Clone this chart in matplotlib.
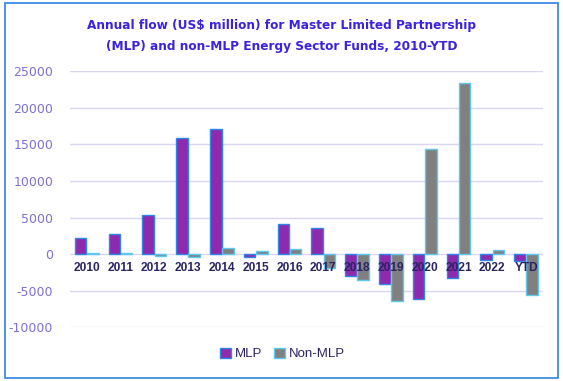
import numpy as np
import matplotlib
matplotlib.use("Agg")
import matplotlib.pyplot as plt
from matplotlib.patches import Rectangle

# annual flows, US$ million
years = ['2010', '2011', '2012', '2013', '2014', '2015', '2016',
         '2017', '2018', '2019', '2020', '2021', '2022', 'YTD']
mlp = [2150, 2700, 5300, 15830, 17060, -450, 4060,
       3510, -3010, -4150, -6200, -3330, -870, -1000]
non_mlp = [100, 100, -300, -450, 860, 370, 640,
           -1960, -3560, -6430, 14320, 23350, 500, -5650]
yticks = [-10000, -5000, 0, 5000, 10000, 15000, 20000, 25000]

title = ('Annual flow (US$ million) for Master Limited Partnership\n'
         '(MLP) and non-MLP Energy Sector Funds, 2010-YTD')

fig = plt.figure(figsize=(5.63, 3.81), dpi=100)
ax = fig.add_axes([0.124, 0.141, 0.8405, 0.672])

x = np.arange(len(years))
w = 0.34
ax.bar(x - 0.18, mlp, w, color='#8e2aae', edgecolor='#2f86e8', linewidth=1.0,
       label='MLP', zorder=3)
ax.bar(x + 0.18, non_mlp, w, color='#808080', edgecolor='#5ec8ee', linewidth=1.0,
       label='Non-MLP', zorder=3)

ax.set_xlim(-0.5, len(years) - 0.5)
ax.set_ylim(-10000, 25000)
ax.set_yticks(yticks)
ax.set_yticklabels([str(v) for v in yticks])
ax.tick_params(axis='y', length=0, pad=12, labelsize=9, labelcolor='#7d70d8')
ax.set_xticks([])
ax.grid(axis='y', color='#dcd6f0', linewidth=1.0, zorder=0)
for s in ax.spines.values():
    s.set_visible(False)

# category labels sit right under the zero line
for i, lab in enumerate(years):
    ax.annotate(lab, (i, 0), xytext=(0, -6), textcoords='offset points',
                ha='center', va='top', fontsize=8.6, fontweight='bold',
                color='#2b2464', family='Liberation Sans', zorder=5)

fig.text(0.5, 0.905, title, ha='center', va='center', fontsize=8.7,
         fontweight='bold', color='#3a22e0', linespacing=1.75)

leg = fig.legend(loc='center', bbox_to_anchor=(0.502, 0.071), ncol=2, frameon=False,
                 handlelength=0.8, handleheight=0.8, handletextpad=0.3,
                 columnspacing=0.9, prop={'family': 'Liberation Sans', 'size': 9.5})
for t in leg.get_texts():
    t.set_color('#2b2464')

fig.patches.append(Rectangle((0.009, 0.008), 0.982, 0.984, transform=fig.transFigure,
                             fill=False, edgecolor='#3c8ce6', linewidth=1.3))

fig.savefig('out.png', dpi=100)
